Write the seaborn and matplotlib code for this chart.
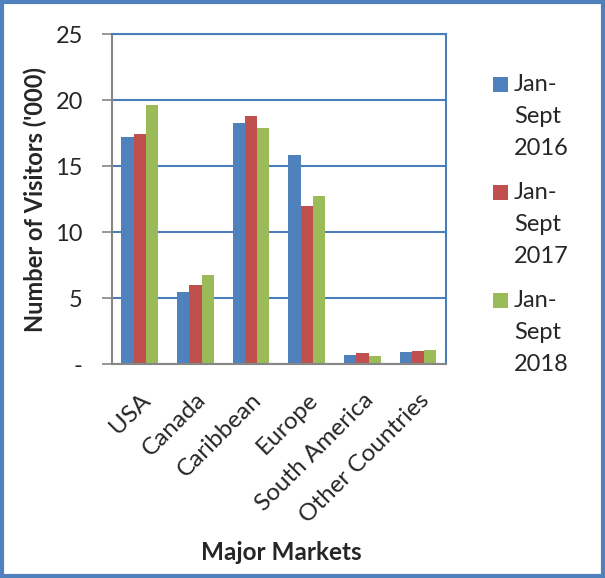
import matplotlib
matplotlib.use("Agg")
import matplotlib.pyplot as plt
import seaborn as sns
import pandas as pd
from matplotlib.patches import Rectangle

markets = ["USA", "Canada", "Caribbean", "Europe", "South America", "Other Countries"]
periods = ["Jan-\nSept\n2016", "Jan-\nSept\n2017", "Jan-\nSept\n2018"]
v2016 = [17.17, 5.43, 18.23, 15.81, 0.68, 0.93]
v2017 = [17.47, 6.01, 18.76, 11.97, 0.83, 1.01]
v2018 = [19.60, 6.74, 17.88, 12.73, 0.58, 1.08]
yticks = [0, 5, 10, 15, 20, 25]
ytick_labels = ["-", "5", "10", "15", "20", "25"]
colors = ["#4F81BD", "#C0504D", "#9BBB59"]

rows = []
for per, vals in zip(periods, [v2016, v2017, v2018]):
    for m, v in zip(markets, vals):
        rows.append({"Market": m, "Period": per, "Visitors": v})
df = pd.DataFrame(rows)

sns.set_theme(style="white")
plt.rcParams["font.family"] = ["Lato", "DejaVu Sans"]

W, H = 605, 578
fig = plt.figure(figsize=(W / 100, H / 100), dpi=100)
ax = fig.add_axes([0.185, 0.370, 0.552, 0.571])

sns.barplot(data=df, x="Market", y="Visitors", hue="Period", order=markets,
            hue_order=periods, palette=colors, width=0.66, ax=ax,
            saturation=1, edgecolor="none", errorbar=None, legend=False)

ax.set_ylim(0, 25)
ax.set_xlim(-0.5, len(markets) - 0.5)
ax.set_yticks(yticks)
ax.set_yticklabels(ytick_labels, fontsize=17)
ax.set_axisbelow(True)
ax.yaxis.grid(True, color="#4A7EBB", linewidth=1.5)
ax.xaxis.grid(False)

for lab in ax.get_xticklabels():
    lab.set_rotation(45)
    lab.set_ha("right")
    lab.set_rotation_mode("anchor")
    lab.set_fontsize(17.5)

ax.tick_params(axis="y", length=7, width=1.2, color="#868686", left=True, pad=14)
ax.tick_params(axis="x", length=0, pad=18)

for side in ["left", "bottom"]:
    ax.spines[side].set_color("#868686")
    ax.spines[side].set_linewidth(1.5)
for side in ["top", "right"]:
    ax.spines[side].set_color("#4A7EBB")
    ax.spines[side].set_linewidth(1.5)

ax.set_ylabel("Number of Visitors ('000)", fontsize=17, fontweight="bold")
ax.yaxis.set_label_coords(-0.195, 0.5)
ax.set_xlabel("")
fig.text(281 / W, 1 - 552 / H, "Major Markets", fontsize=17.5, fontweight="bold",
         ha="center", va="center")

# Legend: colour square beside the first line of each wrapped label
for i, (per, col) in enumerate(zip(periods, colors)):
    top = 76 + i * 108
    fig.patches.append(Rectangle((493 / W, 1 - (top + 16) / H), 15 / W, 15 / H,
                                 transform=fig.transFigure, facecolor=col,
                                 edgecolor="none"))
    fig.text(514 / W, 1 - (top - 2) / H, per, fontsize=17, ha="left", va="top",
             linespacing=1.65)

fig.patches.append(Rectangle((0.004, 0.004), 0.992, 0.992, transform=fig.transFigure,
                             fill=False, edgecolor="#4F81BD", linewidth=3))

fig.savefig("out.png", dpi=100)
